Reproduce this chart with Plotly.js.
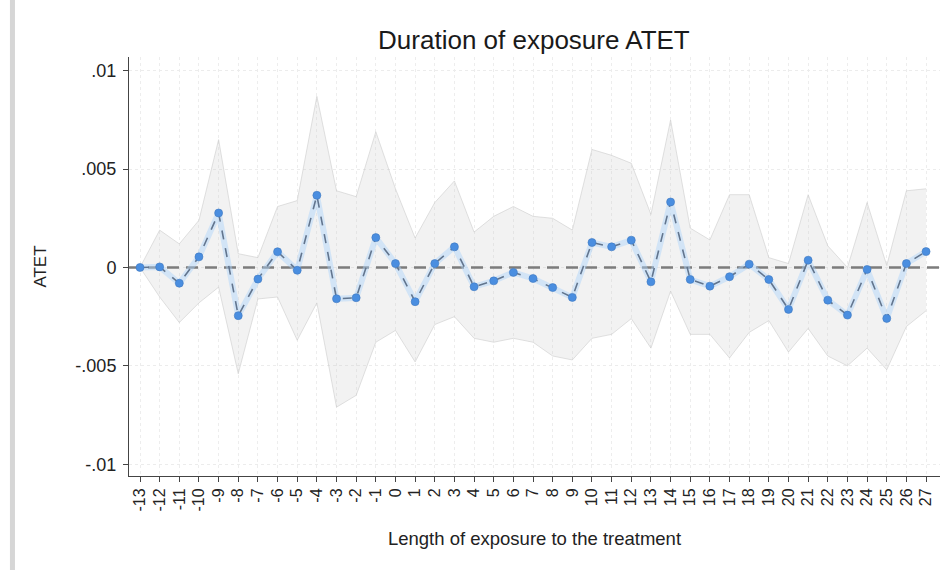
<!DOCTYPE html>
<html>
<head>
<meta charset="utf-8">
<script src="https://cdn.plot.ly/plotly-3.0.1.min.js"></script>
<style>
  html, body { margin: 0; padding: 0; background: #ffffff; }
  #chart { width: 940px; height: 570px; }
</style>
</head>
<body>
<div id="chart"></div>
<script>
// Length of exposure (event time)
var periods = [-13,-12,-11,-10,-9,-8,-7,-6,-5,-4,-3,-2,-1,0,1,2,3,4,5,6,7,8,9,10,11,12,13,14,15,16,17,18,19,20,21,22,23,24,25,26,27];
var periodLabels = periods.map(function (p) { return String(p); });

// ATET point estimates
var atet = [0, 0.00003, -0.0008, 0.00054, 0.00277, -0.00245, -0.00059, 0.0008, -0.00014, 0.00367,
            -0.00159, -0.00154, 0.00152, 0.0002, -0.00174, 0.0002, 0.00105, -0.00098, -0.00068, -0.00025,
            -0.00056, -0.00102, -0.00152, 0.00127, 0.00105, 0.00139, -0.00073, 0.00333, -0.00061, -0.00095,
            -0.00047, 0.00017, -0.00061, -0.00213, 0.00037, -0.00166, -0.00242, -0.0001, -0.00259, 0.0002, 0.00081];

// Confidence interval bounds
var ciUpper = [0, 0.0019, 0.0012, 0.0024, 0.0065, 0.0007, 0.0005, 0.0031, 0.0034, 0.0087,
               0.0039, 0.0036, 0.0069, 0.0040, 0.0015, 0.0033, 0.0044, 0.0018, 0.0026, 0.0031,
               0.0026, 0.0025, 0.0019, 0.0060, 0.0057, 0.0053, 0.0027, 0.0075, 0.0020, 0.0014,
               0.0037, 0.0037, 0.0005, 0.0002, 0.0037, 0.0011, 0.0000, 0.0033, 0.0001, 0.0039, 0.0040];
var ciLower = [0, -0.0015, -0.0028, -0.0018, -0.0010, -0.0054, -0.0016, -0.0015, -0.0037, -0.0018,
               -0.0071, -0.0065, -0.0038, -0.0032, -0.0048, -0.0029, -0.0025, -0.0036, -0.0038, -0.0036,
               -0.0038, -0.0045, -0.0047, -0.0036, -0.0034, -0.0026, -0.0041, -0.0012, -0.0034, -0.0034,
               -0.0046, -0.0033, -0.0027, -0.0043, -0.0031, -0.0045, -0.0050, -0.0041, -0.0052, -0.0030, -0.0022];

// Y axis ticks
var yTickVals = [-0.01, -0.005, 0, 0.005, 0.01];
var yTickText = ['-.01', '-.005', '0', '.005', '.01'];

// Axis ranges
var xRange = [-13.56, 27.71];
var yRange = [-0.0106, 0.0107];
var refValue = 0;

var fontFam = 'Liberation Sans, Arial, Helvetica, sans-serif';

var traces = [
  {
    x: periods, y: ciUpper, type: 'scatter', mode: 'lines',
    line: { color: 'rgba(200,200,200,0.55)', width: 1 },
    hoverinfo: 'skip', showlegend: false
  },
  {
    x: periods, y: ciLower, type: 'scatter', mode: 'lines',
    fill: 'tonexty', fillcolor: 'rgba(200,200,200,0.24)',
    line: { color: 'rgba(200,200,200,0.55)', width: 1 },
    hoverinfo: 'skip', showlegend: false
  },
  {
    x: xRange, y: [refValue, refValue], type: 'scatter', mode: 'lines',
    line: { color: '#7c7c7c', width: 2.5, dash: '12px,7px' },
    hoverinfo: 'skip', showlegend: false, cliponaxis: true
  },
  {
    x: periods, y: atet, type: 'scatter', mode: 'lines',
    line: { color: 'rgba(170,210,250,0.45)', width: 6 },
    hoverinfo: 'skip', showlegend: false
  },
  {
    x: periods, y: atet, type: 'scatter', mode: 'lines+markers',
    line: { color: '#62758e', width: 1.6, dash: 'dash' },
    marker: { color: '#4a8ee0', size: 8, line: { color: '#3f78c0', width: 0.6 } },
    showlegend: false
  }
];

var layout = {
  width: 940, height: 570,
  margin: { l: 129, r: 0, t: 57, b: 94 },
  paper_bgcolor: '#ffffff', plot_bgcolor: '#ffffff',
  font: { family: fontFam, color: '#222222' },
  title: {
    text: 'Duration of exposure ATET',
    font: { family: fontFam, size: 26, color: '#1a1a1a' },
    x: 0.568, xanchor: 'center', y: 0.93, yanchor: 'middle'
  },
  xaxis: {
    range: xRange,
    tickmode: 'array', tickvals: periods, ticktext: periodLabels,
    tickangle: -90, tickfont: { size: 16, color: '#222' },
    ticks: 'outside', ticklen: 5, tickcolor: '#444',
    showline: true, linecolor: '#444', linewidth: 1,
    showgrid: true, gridcolor: '#ededed', gridwidth: 1, griddash: 'dot',
    zeroline: false,
    title: { text: 'Length of exposure to the treatment', font: { size: 18.5, color: '#222' }, standoff: 21 }
  },
  yaxis: {
    range: yRange,
    tickmode: 'array', tickvals: yTickVals, ticktext: yTickText,
    tickfont: { size: 18, color: '#222' },
    ticks: 'outside', ticklen: 5, tickcolor: '#444', ticklabelstandoff: 3,
    showline: true, linecolor: '#444', linewidth: 1,
    showgrid: true, gridcolor: '#ececec', gridwidth: 1, griddash: 'dot',
    zeroline: false,
    title: { text: 'ATET', font: { size: 17, color: '#222' }, standoff: 24 }
  },
  shapes: [
    {
      type: 'rect', xref: 'paper', yref: 'paper',
      x0: -0.1468, x1: -0.1406, y0: -0.25, y1: 1.2,
      fillcolor: '#d6d6d6', line: { width: 0 }, layer: 'above'
    }
  ]
};

Plotly.newPlot('chart', traces, layout, { displayModeBar: false, staticPlot: true });
</script>
</body>
</html>
